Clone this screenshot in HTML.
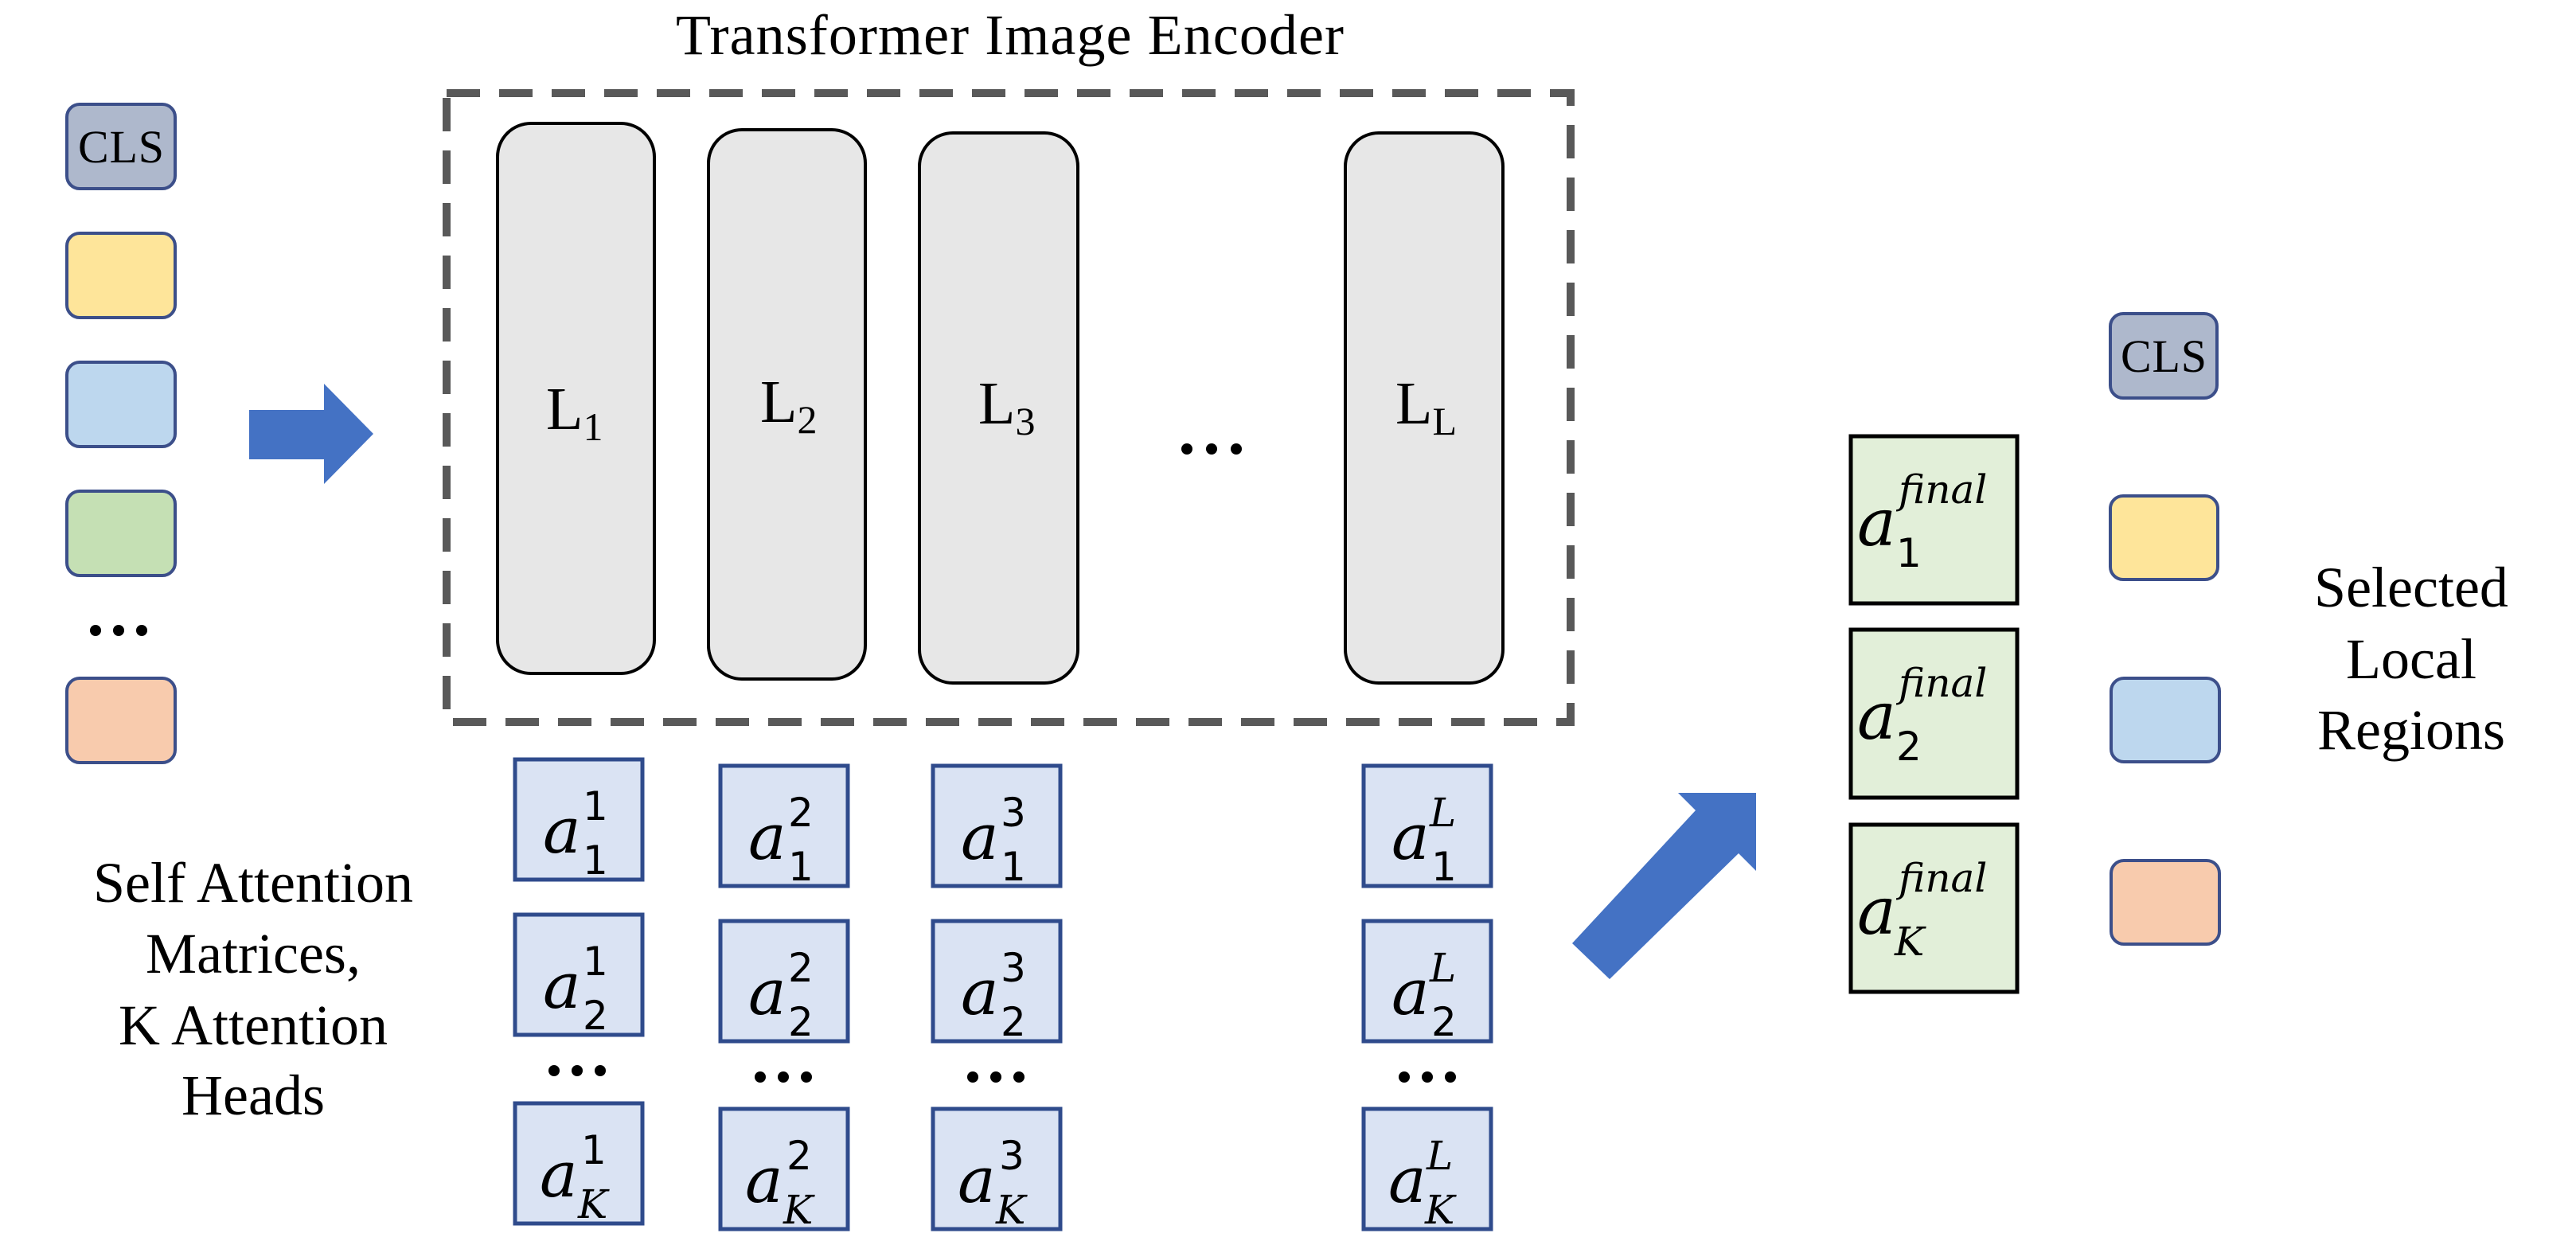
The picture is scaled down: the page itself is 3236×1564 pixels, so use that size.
<!DOCTYPE html>
<html><head><meta charset="utf-8"><style>
html,body{margin:0;padding:0;background:#fff;}
svg{display:block;}
text{font-family:"Liberation Serif",serif;fill:#000;}
.m{font-family:"DejaVu Serif","Liberation Serif",serif;font-style:italic;}
.n{font-family:"DejaVu Sans","Liberation Sans",sans-serif;font-style:normal;}
</style></head><body>
<svg width="3236" height="1564" viewBox="0 0 3236 1564" xmlns="http://www.w3.org/2000/svg">
<text x="849" y="68" font-size="72" textLength="839">Transformer Image Encoder</text>
<g stroke="#3c4f8a" stroke-width="4">
<rect x="84" y="131" width="136" height="106" rx="16" fill="#aeb8cc"/>
<rect x="84" y="293" width="136" height="106" rx="16" fill="#fee59a"/>
<rect x="84" y="455" width="136" height="106" rx="16" fill="#bdd7ee"/>
<rect x="84" y="617" width="136" height="106" rx="16" fill="#c5e0b4"/>
<rect x="84" y="852" width="136" height="106" rx="16" fill="#f8cbad"/>
</g>
<text x="152" y="204" font-size="58" text-anchor="middle" textLength="108">CLS</text>
<g fill="#000"><circle cx="120" cy="792" r="7"/><circle cx="149" cy="792" r="7"/><circle cx="178" cy="792" r="7"/></g>
<polygon points="313,515 407,515 407,482 469,545 407,608 407,577 313,577" fill="#4472c4"/>
<rect x="561" y="117" width="1412" height="790" fill="none" stroke="#595959" stroke-width="10" stroke-dasharray="42,24"/>
<g fill="#e7e7e7" stroke="#000" stroke-width="4">
<rect x="625" y="155" width="197" height="691" rx="42"/>
<rect x="890" y="163" width="197" height="690" rx="42"/>
<rect x="1155" y="167" width="199" height="691" rx="42"/>
<rect x="1690" y="167" width="198" height="691" rx="42"/>
</g>
<text x="686" y="539" font-size="76">L<tspan font-size="50" dy="14">1</tspan></text>
<text x="955" y="530" font-size="76">L<tspan font-size="50" dy="14">2</tspan></text>
<text x="1229" y="532" font-size="76">L<tspan font-size="50" dy="14">3</tspan></text>
<text x="1753" y="532" font-size="76">L<tspan font-size="50" dy="14">L</tspan></text>
<g fill="#000"><circle cx="1491" cy="564" r="7"/><circle cx="1522" cy="564" r="7"/><circle cx="1553" cy="564" r="7"/></g>
<g fill="#dae3f3" stroke="#2f4b8c" stroke-width="5">
<rect x="647" y="954" width="160" height="151"/>
<rect x="647" y="1149" width="160" height="151"/>
<rect x="647" y="1386" width="160" height="151"/>
<rect x="905" y="962" width="160" height="151"/>
<rect x="905" y="1157" width="160" height="151"/>
<rect x="905" y="1393" width="160" height="151"/>
<rect x="1172" y="962" width="160" height="151"/>
<rect x="1172" y="1157" width="160" height="151"/>
<rect x="1172" y="1393" width="160" height="151"/>
<rect x="1713" y="962" width="160" height="151"/>
<rect x="1713" y="1157" width="160" height="151"/>
<rect x="1713" y="1393" width="160" height="151"/>
</g>
<g font-size="80">
<text class="m" x="682" y="1071">a</text><text class="n" x="732" y="1030" font-size="50">1</text><text class="n" x="732" y="1098" font-size="50">1</text>
<text class="m" x="682" y="1266">a</text><text class="n" x="732" y="1225" font-size="50">1</text><text class="n" x="732" y="1293" font-size="50">2</text>
<text class="m" x="678" y="1503">a</text><text class="n" x="730" y="1462" font-size="50">1</text><text class="m" x="726" y="1530" font-size="50">K</text>

<text class="m" x="940" y="1079">a</text><text class="n" x="990" y="1038" font-size="50">2</text><text class="n" x="990" y="1106" font-size="50">1</text>
<text class="m" x="940" y="1274">a</text><text class="n" x="990" y="1233" font-size="50">2</text><text class="n" x="990" y="1301" font-size="50">2</text>
<text class="m" x="936" y="1510">a</text><text class="n" x="988" y="1469" font-size="50">2</text><text class="m" x="984" y="1537" font-size="50">K</text>

<text class="m" x="1207" y="1079">a</text><text class="n" x="1257" y="1038" font-size="50">3</text><text class="n" x="1257" y="1106" font-size="50">1</text>
<text class="m" x="1207" y="1274">a</text><text class="n" x="1257" y="1233" font-size="50">3</text><text class="n" x="1257" y="1301" font-size="50">2</text>
<text class="m" x="1203" y="1510">a</text><text class="n" x="1255" y="1469" font-size="50">3</text><text class="m" x="1251" y="1537" font-size="50">K</text>

<text class="m" x="1748" y="1079">a</text><text class="m" x="1796" y="1038" font-size="50">L</text><text class="n" x="1798" y="1106" font-size="50">1</text>
<text class="m" x="1748" y="1274">a</text><text class="m" x="1796" y="1233" font-size="50">L</text><text class="n" x="1798" y="1301" font-size="50">2</text>
<text class="m" x="1744" y="1510">a</text><text class="m" x="1792" y="1469" font-size="50">L</text><text class="m" x="1790" y="1537" font-size="50">K</text>
</g>
<g fill="#000">
<circle cx="696" cy="1345" r="7"/><circle cx="725" cy="1345" r="7"/><circle cx="754" cy="1345" r="7"/>
<circle cx="955" cy="1353" r="7"/><circle cx="984" cy="1353" r="7"/><circle cx="1013" cy="1353" r="7"/>
<circle cx="1222" cy="1353" r="7"/><circle cx="1251" cy="1353" r="7"/><circle cx="1280" cy="1353" r="7"/>
<circle cx="1764" cy="1353" r="7"/><circle cx="1793" cy="1353" r="7"/><circle cx="1822" cy="1353" r="7"/>
</g>
<g font-size="72" text-anchor="middle">
<text x="318" y="1133">Self Attention</text>
<text x="318" y="1222">Matrices,</text>
<text x="318" y="1312">K Attention</text>
<text x="318" y="1400">Heads</text>
</g>
<polygon points="1975,1185 2130,1018 2108,996 2206,996 2206,1094 2184,1072 2022,1230" fill="#4472c4"/>
<g fill="#e2efd9" stroke="#000" stroke-width="5">
<rect x="2325" y="548" width="209" height="210"/>
<rect x="2325" y="791" width="209" height="211"/>
<rect x="2325" y="1036" width="209" height="210"/>
</g>
<text class="m" x="2333" y="685" font-size="82">a</text><text class="m" x="2385" y="632" font-size="50">final</text><text class="n" x="2382" y="712" font-size="50">1</text>
<text class="m" x="2333" y="928" font-size="82">a</text><text class="m" x="2385" y="875" font-size="50">final</text><text class="n" x="2382" y="955" font-size="50">2</text>
<text class="m" x="2333" y="1173" font-size="82">a</text><text class="m" x="2385" y="1120" font-size="50">final</text><text class="m" x="2380" y="1200" font-size="50">K</text>
<g stroke="#3c4f8a" stroke-width="4">
<rect x="2651" y="394" width="134" height="106" rx="16" fill="#aeb8cc"/>
<rect x="2651" y="623" width="135" height="105" rx="16" fill="#fee59a"/>
<rect x="2652" y="852" width="136" height="105" rx="16" fill="#bdd7ee"/>
<rect x="2652" y="1081" width="136" height="105" rx="16" fill="#f8cbad"/>
</g>
<text x="2718" y="467" font-size="58" text-anchor="middle" textLength="108">CLS</text>
<g font-size="72" text-anchor="middle">
<text x="3029" y="762">Selected</text>
<text x="3029" y="852">Local</text>
<text x="3029" y="941">Regions</text>
</g>
</svg>
</body></html>
